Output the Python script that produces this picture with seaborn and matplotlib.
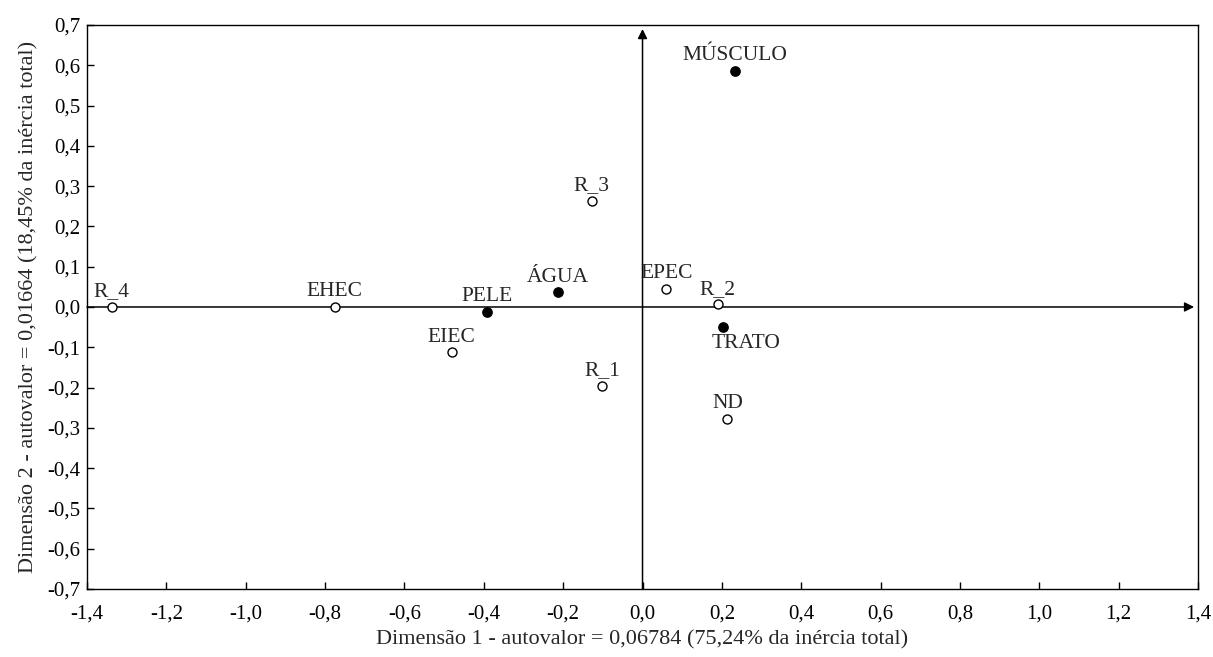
import matplotlib
matplotlib.use('Agg')
import matplotlib.pyplot as plt
import seaborn as sns
import pandas as pd
from matplotlib.ticker import FuncFormatter, MultipleLocator

# coordenadas da analise de correspondencia
rotulos = ['R_4', 'EHEC', 'EIEC', 'R_3', 'R_1', 'EPEC', 'R_2', 'ND',
           'PELE', 'ÁGUA', 'TRATO', 'MÚSCULO']
dim1 = [-1.338, -0.776, -0.481, -0.128, -0.101, 0.060, 0.189, 0.214,
        -0.393, -0.214, 0.202, 0.232]
dim2 = [0.000, 0.000, -0.112, 0.263, -0.196, 0.045, 0.007, -0.278,
        -0.012, 0.037, -0.050, 0.586]
grupo = ['linha'] * 8 + ['coluna'] * 4

df = pd.DataFrame({'rotulo': rotulos, 'x': dim1, 'y': dim2, 'grupo': grupo})

sns.set_style('white')
plt.rcParams['font.family'] = ['Liberation Serif', 'DejaVu Serif']

fig = plt.figure(figsize=(12.13, 6.57), dpi=100)
ax = fig.add_axes([0.0717, 0.1035, 0.916, 0.8585])

# eixos com seta
ax.annotate('', xy=(1.39, 0), xytext=(-1.4, 0),
            arrowprops=dict(arrowstyle='-|>', color='black', lw=1.1,
                            mutation_scale=14, shrinkA=0, shrinkB=0), zorder=1)
ax.annotate('', xy=(0, 0.69), xytext=(0, -0.7),
            arrowprops=dict(arrowstyle='-|>', color='black', lw=1.1,
                            mutation_scale=14, shrinkA=0, shrinkB=0), zorder=1)

sns.scatterplot(data=df[df.grupo == 'linha'], x='x', y='y', ax=ax,
                marker='o', s=42, facecolor='white', edgecolor='black',
                linewidth=1, zorder=3)
sns.scatterplot(data=df[df.grupo == 'coluna'], x='x', y='y', ax=ax,
                marker='o', s=45, color='black', edgecolor='black',
                linewidth=1, zorder=3)

for _, r in df.iterrows():
    if r.rotulo == 'TRATO':
        ax.annotate(r.rotulo, (r.x, r.y), xytext=(17, -5), textcoords='offset points',
                    ha='center', va='top', fontsize=15.5)
    else:
        ax.annotate(r.rotulo, (r.x, r.y), xytext=(0, 4), textcoords='offset points',
                    ha='center', va='bottom', fontsize=15.5)

ax.set_xlim(-1.4, 1.4)
ax.set_ylim(-0.7, 0.7)
ax.xaxis.set_major_locator(MultipleLocator(0.2))
ax.yaxis.set_major_locator(MultipleLocator(0.1))
virgula = FuncFormatter(lambda v, p: f'{v:.1f}'.replace('.', ',').replace('-0,0', '0,0'))
ax.xaxis.set_major_formatter(virgula)
ax.yaxis.set_major_formatter(virgula)
ax.tick_params(direction='in', length=5, width=1, labelsize=15, colors='black',
               bottom=True, left=True, top=False, right=False)
ax.tick_params(axis='x', pad=11)
ax.tick_params(axis='y', pad=5)

for s in ax.spines.values():
    s.set_color('black')
    s.set_linewidth(1)

ax.set_xlabel('Dimensão 1 - autovalor = 0,06784 (75,24% da inércia total)',
              fontsize=16, labelpad=5)
ax.set_ylabel('Dimensão 2 - autovalor = 0,01664 (18,45% da inércia total)',
              fontsize=16, labelpad=6)

fig.savefig('out.png', dpi=100)
